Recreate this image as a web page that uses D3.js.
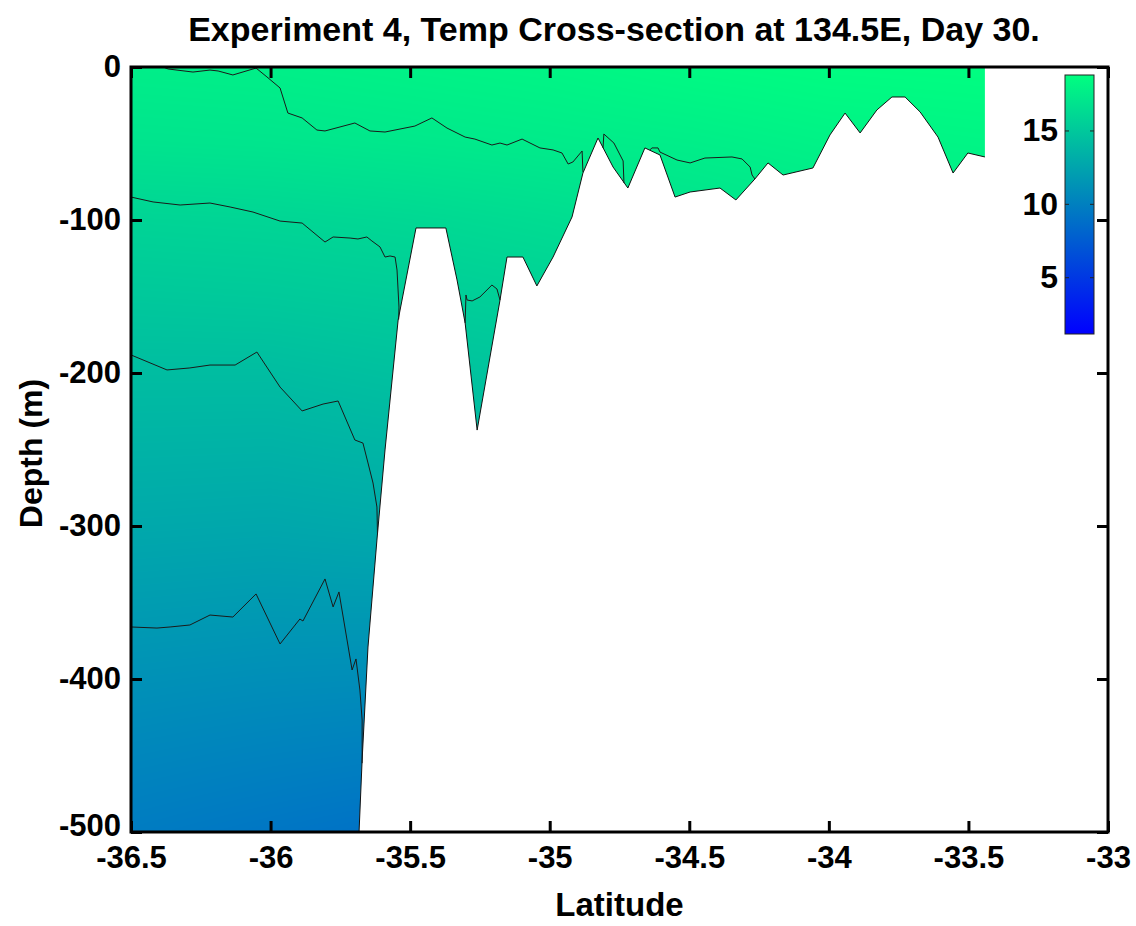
<!DOCTYPE html>
<html>
<head>
<meta charset="utf-8">
<script src="https://cdn.jsdelivr.net/npm/d3@7"></script>
<style>
  body { margin: 0; background: #fff; }
  svg text { font-family: "Liberation Sans", Arial, sans-serif; font-weight: bold; fill: #000; }
</style>
</head>
<body>
<div id="chart"></div>
<script>
// ticks
const latTicks = [-36.5, -36, -35.5, -35, -34.5, -34, -33.5, -33];
const depthTicks = [0, -100, -200, -300, -400, -500];
const cbarTicks = [5, 10, 15];
const cRange = [1.13, 18.78];

// temperature (rows = depth, cols = latitude)
const gridLat = [-36.5, -36.0, -35.5, -35.0, -34.5, -34.0, -33.4];
const gridDepth = [0, -50, -100, -150, -200, -300, -400, -500];
const gridTemp = [
  [17.6, 17.7, 17.9, 18.1, 18.4, 18.6, 18.7],
  [16.9, 17.0, 17.2, 17.4, 17.6, 17.9, 18.1],
  [15.8, 15.9, 16.1, 16.4, 16.8, 17.2, 17.5],
  [15.0, 15.1, 15.3, 15.6, 16.0, 16.5, 16.8],
  [14.2, 14.2, 14.5, 14.8, 15.2, 15.6, 16.0],
  [12.8, 12.7, 12.9, 13.3, 13.8, 14.2, 14.6],
  [11.2, 11.0, 10.9, 11.6, 12.2, 12.8, 13.2],
  [9.7, 9.3, 8.9, 10.0, 10.8, 11.5, 12.0]
];

// sea floor, from deep (left) to shallow (right)
const bottomLat = [-35.683, -35.672, -35.651, -35.619, -35.590, -35.543, -35.479, -35.372, -35.332, -35.303,
  -35.260, -35.178, -35.153, -35.096, -35.046, -34.988, -34.920, -34.881, -34.827, -34.773, -34.720,
  -34.659, -34.605, -34.551, -34.497, -34.390, -34.333, -34.265, -34.218, -34.164, -34.057, -33.996,
  -33.942, -33.888, -33.828, -33.774, -33.727, -33.673, -33.609, -33.555, -33.502, -33.441];
const bottomDepth = [-500, -452.9, -379.1, -309.2, -250.3, -165.4, -105.2, -105.2, -139.2, -167.3,
  -237.3, -152.3, -124.2, -124.2, -143.1, -124.2, -98.0, -69.3, -46.4, -65.4, -79.1,
  -52.9, -57.5, -85.0, -81.7, -79.1, -86.9, -73.2, -62.7, -70.6, -66.0, -44.4,
  -30.1, -43.1, -28.1, -19.6, -19.6, -29.4, -45.8, -69.3, -56.2, -58.8];

// contour lines [lat, depth]
const contourA = [[-36.385, 0], [-36.367, -1.3], [-36.278, -3.3], [-36.217, -2.0], [-36.188, -2.6], [-36.135, -5.2],
  [-36.052, -0.7], [-36.013, -6.5], [-35.966, -13.7], [-35.938, -30.1], [-35.887, -33.3], [-35.834, -41.2],
  [-35.805, -41.8], [-35.698, -36.6], [-35.644, -41.8], [-35.590, -42.5], [-35.483, -38.6], [-35.422, -33.3],
  [-35.368, -39.9], [-35.303, -45.8], [-35.268, -47.1], [-35.207, -51.0], [-35.178, -49.7], [-35.153, -51.0],
  [-35.099, -47.1], [-35.035, -52.9], [-34.988, -54.2], [-34.956, -56.2], [-34.934, -63.4], [-34.917, -62.1],
  [-34.884, -54.9], [-34.881, -68.6]];
const contourA2 = [[-34.809, -52.9], [-34.806, -43.8], [-34.770, -49.7], [-34.737, -61.4], [-34.734, -75.8]];
const contourA3 = [[-34.641, -54.2], [-34.634, -52.9], [-34.612, -52.9], [-34.605, -55.6], [-34.544, -60.8],
  [-34.497, -62.7], [-34.444, -59.5], [-34.347, -58.8], [-34.311, -60.1], [-34.282, -65.4], [-34.275, -70.6],
  [-34.265, -73.2]];
const contourB = [[-36.5, -85.0], [-36.421, -88.2], [-36.324, -90.2], [-36.217, -88.9], [-36.145, -91.5],
  [-36.063, -94.8], [-35.966, -100.7], [-35.887, -102.0], [-35.805, -114.4], [-35.776, -111.1], [-35.715, -111.8],
  [-35.687, -112.4], [-35.655, -111.1], [-35.637, -113.7], [-35.608, -117.6], [-35.590, -124.2], [-35.572, -123.5],
  [-35.554, -124.2], [-35.547, -132.7], [-35.540, -156.9], [-35.541, -165.0]];
const contourB2 = [[-35.303, -167.3], [-35.300, -149.0], [-35.296, -152.3], [-35.278, -152.9], [-35.250, -150.3],
  [-35.207, -142.5], [-35.189, -145.1], [-35.178, -152.3]];
const contourC = [[-36.5, -188.2], [-36.371, -198.0], [-36.289, -196.7], [-36.217, -194.8], [-36.127, -194.8],
  [-36.049, -186.3], [-35.966, -209.2], [-35.887, -224.8], [-35.812, -220.3], [-35.758, -218.3], [-35.698, -243.8],
  [-35.669, -245.8], [-35.651, -258.8], [-35.633, -271.9], [-35.619, -287.6], [-35.617, -305.0]];
const contourD = [[-36.5, -366.0], [-36.407, -366.7], [-36.360, -366.0], [-36.289, -364.7], [-36.217, -358.2],
  [-36.135, -359.5], [-36.052, -344.4], [-35.966, -377.1], [-35.895, -360.8], [-35.884, -362.1], [-35.805, -334.6],
  [-35.776, -352.9], [-35.755, -343.1], [-35.708, -394.1], [-35.694, -386.9], [-35.680, -407.2], [-35.672, -426.8],
  [-35.672, -455.0]];
const contours = [contourA, contourA2, contourA3, contourB, contourB2, contourC, contourD];

const W = 1136, H = 926;
const x = d3.scaleLinear().domain([-36.5, -33]).range([131, 1108]);
const y = d3.scaleLinear().domain([0, -500]).range([67, 832]);
// winter colormap
const colour = d3.scaleLinear().domain(cRange).range(["rgb(0,0,255)", "rgb(0,255,128)"]).clamp(true);

const svg = d3.select("#chart").append("svg").attr("width", W).attr("height", H);
const defs = svg.append("defs");

// water region for clipping
const bottom = bottomLat.map((d, i) => [d, bottomDepth[i]]);
const sea = [[-36.5, 0], [bottomLat[bottomLat.length - 1], 0]]
  .concat(bottom.slice().reverse())
  .concat([[-36.5, -500]]);
const line = d3.line().x(d => x(d[0])).y(d => y(d[1]));
defs.append("clipPath").attr("id", "sea").append("path").attr("d", line(sea) + "Z");

// bilinear lookup in the temperature grid
function temp(lat, dep) {
  let i = Math.min(Math.max(d3.bisectRight(gridLat, lat) - 1, 0), gridLat.length - 2);
  let j = 0;
  while (j < gridDepth.length - 2 && dep < gridDepth[j + 1]) j++;
  const tx = Math.min(Math.max((lat - gridLat[i]) / (gridLat[i + 1] - gridLat[i]), 0), 1);
  const ty = Math.min(Math.max((dep - gridDepth[j]) / (gridDepth[j + 1] - gridDepth[j]), 0), 1);
  const a = gridTemp[j][i], b = gridTemp[j][i + 1], c = gridTemp[j + 1][i], e = gridTemp[j + 1][i + 1];
  return (a * (1 - tx) + b * tx) * (1 - ty) + (c * (1 - tx) + e * tx) * ty;
}

const pw = x(-33) - x(-36.5), ph = y(-500) - y(0);
const canvas = document.createElement("canvas");
canvas.width = Math.round(pw); canvas.height = Math.round(ph);
const ctx = canvas.getContext("2d");
const img = ctx.createImageData(canvas.width, canvas.height);
for (let py = 0; py < canvas.height; py++) {
  const dep = y.invert(y(0) + py + 0.5);
  for (let px = 0; px < canvas.width; px++) {
    const lat = x.invert(x(-36.5) + px + 0.5);
    const c = d3.rgb(colour(temp(lat, dep)));
    const k = (py * canvas.width + px) * 4;
    img.data[k] = c.r; img.data[k + 1] = c.g; img.data[k + 2] = c.b; img.data[k + 3] = 255;
  }
}
ctx.putImageData(img, 0, 0);

svg.append("image")
  .attr("href", canvas.toDataURL())
  .attr("x", x(-36.5)).attr("y", y(0))
  .attr("width", pw).attr("height", ph)
  .attr("preserveAspectRatio", "none")
  .attr("clip-path", "url(#sea)");

// sea floor edge
svg.append("path").attr("d", line(bottom))
  .attr("fill", "none").attr("stroke", "#111").attr("stroke-width", 1);

// contour lines
svg.selectAll(".contour").data(contours).enter().append("path")
  .attr("class", "contour")
  .attr("d", line)
  .attr("fill", "none").attr("stroke", "#1a1a1a").attr("stroke-width", 1);

// axes (ticks inside)
const fmt = d => String(d);
const gx = svg.append("g").attr("transform", `translate(0,${y(-500)})`)
  .call(d3.axisBottom(x).tickValues(latTicks).tickFormat(fmt).tickSizeInner(-11).tickSizeOuter(0).tickPadding(14));
const gy = svg.append("g").attr("transform", `translate(${x(-36.5)},0)`)
  .call(d3.axisLeft(y).tickValues(depthTicks).tickFormat(fmt).tickSizeInner(-11).tickSizeOuter(0).tickPadding(10));
const gt = svg.append("g").attr("transform", `translate(0,${y(0)})`)
  .call(d3.axisTop(x).tickValues(latTicks).tickFormat("").tickSizeInner(-11).tickSizeOuter(0));
const gr = svg.append("g").attr("transform", `translate(${x(-33)},0)`)
  .call(d3.axisRight(y).tickValues(depthTicks).tickFormat("").tickSizeInner(-11).tickSizeOuter(0));
[gx, gy, gt, gr].forEach(g => {
  g.select(".domain").remove();
  g.selectAll(".tick line").attr("stroke", "#000").attr("stroke-width", 3);
  g.selectAll("text").style("font-size", "31px").attr("fill", "#000");
});
// keep the -500 label clear of the -36.5 label
gy.selectAll(".tick text").filter(d => d === -500).attr("dy", "0.1em");

svg.append("rect")
  .attr("x", x(-36.5)).attr("y", y(0)).attr("width", pw).attr("height", ph)
  .attr("fill", "none").attr("stroke", "#000").attr("stroke-width", 3);

// colorbar
const cy = d3.scaleLinear().domain(cRange).range([334, 75]);
const grad = defs.append("linearGradient").attr("id", "cbar")
  .attr("x1", 0).attr("y1", 1).attr("x2", 0).attr("y2", 0);
grad.append("stop").attr("offset", 0).attr("stop-color", colour(cRange[0]));
grad.append("stop").attr("offset", 1).attr("stop-color", colour(cRange[1]));
const cbx = 1065, cbw = 29;
svg.append("rect").attr("x", cbx).attr("y", cy(cRange[1])).attr("width", cbw)
  .attr("height", cy(cRange[0]) - cy(cRange[1]))
  .attr("fill", "url(#cbar)").attr("stroke", "#222").attr("stroke-width", 1);
const gc = svg.append("g").attr("transform", `translate(${cbx},0)`)
  .call(d3.axisLeft(cy).tickValues(cbarTicks).tickFormat(fmt).tickSizeInner(-4).tickSizeOuter(0).tickPadding(7));
const gc2 = svg.append("g").attr("transform", `translate(${cbx + cbw},0)`)
  .call(d3.axisRight(cy).tickValues(cbarTicks).tickFormat("").tickSizeInner(-4).tickSizeOuter(0));
[gc, gc2].forEach(g => {
  g.select(".domain").remove();
  g.selectAll(".tick line").attr("stroke", "#222").attr("stroke-width", 1);
  g.selectAll("text").style("font-size", "32px").attr("fill", "#000");
});

// titles
svg.append("text").attr("x", 614).attr("y", 41).attr("text-anchor", "middle")
  .style("font-size", "34px").text("Experiment 4, Temp Cross-section at 134.5E, Day 30.");
svg.append("text").attr("x", (x(-36.5) + x(-33)) / 2).attr("y", 916).attr("text-anchor", "middle")
  .style("font-size", "33px").text("Latitude");
svg.append("text").attr("transform", `translate(42,${(y(0) + y(-500)) / 2 + 4}) rotate(-90)`)
  .attr("text-anchor", "middle").style("font-size", "32px").text("Depth (m)");
</script>
</body>
</html>
